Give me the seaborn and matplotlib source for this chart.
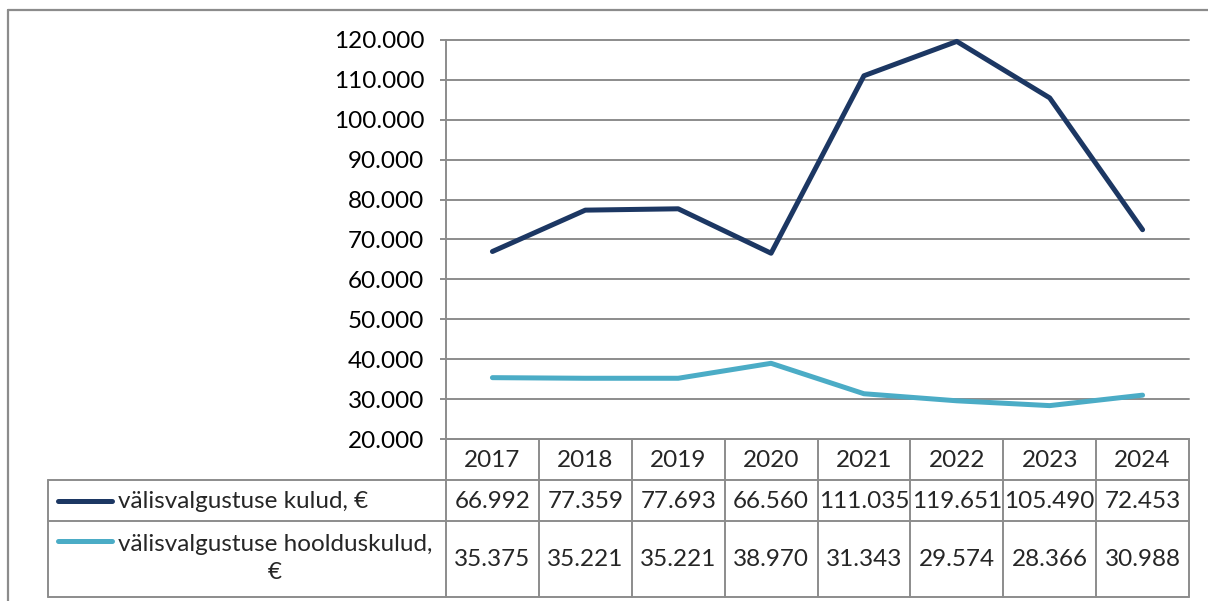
import pandas as pd
import matplotlib
matplotlib.use('Agg')
import matplotlib.pyplot as plt
import seaborn as sns
from matplotlib.lines import Line2D

sns.set_style('white')
plt.rcParams['font.family'] = ['Lato', 'DejaVu Sans']

# andmed
years = ['2017', '2018', '2019', '2020', '2021', '2022', '2023', '2024']
kulud = [66992, 77359, 77693, 66560, 111035, 119651, 105490, 72453]
hooldus = [35375, 35221, 35221, 38970, 31343, 29574, 28366, 30988]
names = ['välisvalgustuse kulud, €', 'välisvalgustuse hoolduskulud,\n€']
colors = ['#1c3763', '#4bacc6']
yticks = list(range(20000, 120001, 10000))

def fmt(v):
    return f'{v:,}'.replace(',', '.')

df = pd.DataFrame({
    'pos': list(range(len(years))) * 2,
    'value': kulud + hooldus,
    'series': [names[0]] * len(years) + [names[1]] * len(years),
})

W, H = 1208, 601
fig = plt.figure(figsize=(W / 100, H / 100), dpi=100)
grey = '#8c8c8c'
fs = 17.5
lw_series = 3.6

# layout in pixels
left, right, top, bottom = 446, 1189, 40, 439
row_edges = [439, 480, 521, 597]
tab_left = 48

# table / frame axes over whole figure
axt = fig.add_axes([0, 0, 1, 1])
axt.set_xlim(0, W)
axt.set_ylim(H, 0)
axt.axis('off')

# outer chart border
axt.plot([8, 8], [10, H], color=grey, lw=1.6)
axt.plot([8, W], [10, 10], color=grey, lw=1.6)

n = len(years)
colw = (right - left) / n
col_edges = [left + i * colw for i in range(n + 1)]

# table grid
axt.plot([left, right], [row_edges[0], row_edges[0]], color=grey, lw=1.4)
for x in col_edges:
    axt.plot([x, x], [row_edges[0], row_edges[-1]], color=grey, lw=1.4)
for y in row_edges[1:]:
    axt.plot([tab_left, right], [y, y], color=grey, lw=1.4)
axt.plot([tab_left, tab_left], [row_edges[1], row_edges[-1]], color=grey, lw=1.4)

for i, yr in enumerate(years):
    cx = left + (i + 0.5) * colw
    axt.text(cx, (row_edges[0] + row_edges[1]) / 2 + 1, yr, ha='center', va='center', fontsize=fs)

label_y = [501, 541]
for r, (vals, name, c) in enumerate(zip([kulud, hooldus], names, colors)):
    y0, y1 = row_edges[r + 1], row_edges[r + 2]
    cy = (y0 + y1) / 2 + 1
    axt.add_line(Line2D([58, 112], [label_y[r], label_y[r]],
                        color=c, lw=lw_series, solid_capstyle='round'))
    if r == 0:
        axt.text(118, label_y[r], name, ha='left', va='center', fontsize=fs)
    else:
        axt.text(118, label_y[r] + 17.5, name, ha='left', va='center', fontsize=fs,
                 multialignment='center', linespacing=1.4)
    for i, v in enumerate(vals):
        cx = left + (i + 0.5) * colw
        axt.text(cx, cy, fmt(v), ha='center', va='center', fontsize=fs)

# main plot
ax = fig.add_axes([left / W, (H - bottom) / H, (right - left) / W, (bottom - top) / H])
ax.set_facecolor('none')
sns.lineplot(data=df, x='pos', y='value', hue='series', palette=colors,
             linewidth=lw_series, legend=False, ax=ax, solid_capstyle='round',
             solid_joinstyle='round', clip_on=False)
ax.set_xlim(-0.5, n - 0.5)
ax.set_ylim(20000, 120000)
ax.set_yticks(yticks)
ax.set_yticklabels([fmt(v) for v in yticks], fontsize=fs)
ax.set_xticks([])
ax.set_xlabel('')
ax.set_ylabel('')
for yv in yticks:
    ax.axhline(yv, color=grey, lw=1.4, zorder=0, clip_on=False)
for s in ['top', 'right', 'bottom']:
    ax.spines[s].set_visible(False)
ax.spines['left'].set_color(grey)
ax.spines['left'].set_linewidth(1.4)
ax.tick_params(axis='y', colors=grey, length=4.5, width=1.4, pad=11, labelcolor='black', left=True)

fig.savefig('out.png', dpi=100)
